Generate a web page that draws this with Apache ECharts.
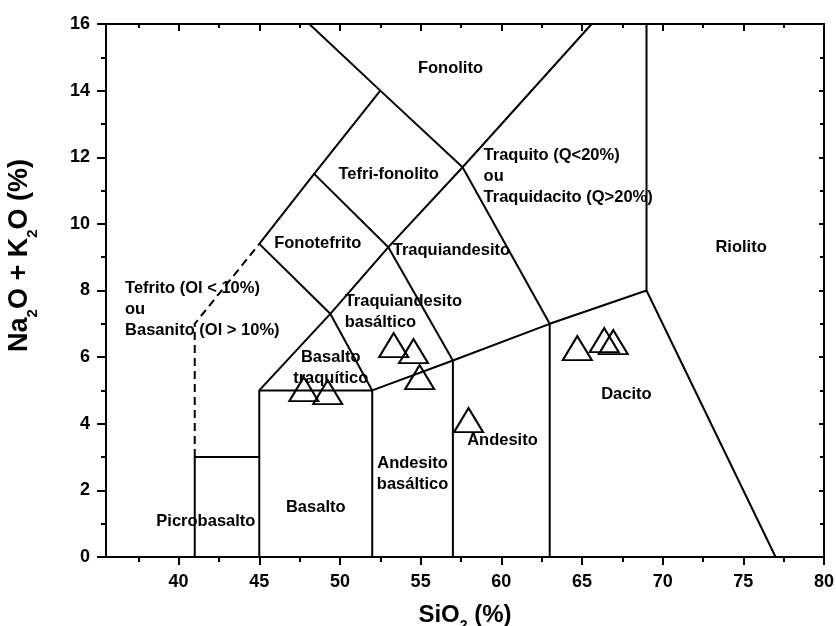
<!DOCTYPE html>
<html>
<head>
<meta charset="utf-8">
<script src="https://cdn.jsdelivr.net/npm/echarts@6/dist/echarts.min.js"></script>
<style>
  html, body { margin: 0; padding: 0; background: #fff; }
  #chart { width: 836px; height: 626px; }
</style>
</head>
<body>
<div id="chart"></div>
<script>
// ticks
var xTicks = [40, 45, 50, 55, 60, 65, 70, 75, 80];
var xMinor = [37.5, 42.5, 47.5, 52.5, 57.5, 62.5, 67.5, 72.5, 77.5];

// amostras (triangulos)
var sampleSiO2 = [53.33, 54.56, 54.94, 47.76, 49.24, 57.97, 64.71, 66.38, 66.94];
var sampleAlk  = [6.36, 6.18, 5.40, 5.04, 4.95, 4.11, 6.27, 6.51, 6.45];

// limites do diagrama TAS
var solidLines = [
  [[41, 0], [41, 3], [45, 3]],
  [[45, 0], [45, 5], [52, 5], [52, 0]],
  [[52, 5], [57, 5.9], [57, 0]],
  [[57, 5.9], [63, 7], [63, 0]],
  [[63, 7], [69, 8], [77, 0]],
  [[69, 8], [69, 16]],
  [[45, 9.4], [48.4, 11.5], [52.5, 14], [48.1, 16]],
  [[52.5, 14], [57.6, 11.7], [65.6, 16]],
  [[48.4, 11.5], [53, 9.3], [57.6, 11.7]],
  [[45, 9.4], [49.4, 7.3], [53, 9.3]],
  [[45, 5], [49.4, 7.3], [52, 5]],
  [[53, 9.3], [57, 5.9]],
  [[57.6, 11.7], [63, 7]]
];
var dashedLine = [[41, 3], [41, 7], [45, 9.4]];

// nomes dos campos
var fieldNames = ['Fonolito', 'Tefri-fonolito', 'Traquito (Q<20%)\nou\nTraquidacito (Q>20%)',
  'Fonotefrito', 'Traquiandesito', 'Riolito', 'Tefrito (Ol < 10%)\nou\nBasanito (Ol > 10%)',
  'Traquiandesito\nbasáltico', 'Basalto\ntraquítico', 'Dacito', 'Andesito',
  'Andesito\nbasáltico', 'Basalto', 'Picrobasalto'];
var fieldX = [56.85, 53.02, 58.9, 48.62, 53.27, 74.86, 36.68, 50.29, 49.43, 67.75, 60.07, 54.5, 48.5, 41.69];
var fieldY = [14.68, 11.47, 11.41, 9.40, 9.19, 9.28, 7.42, 7.36, 5.67, 4.89, 3.51, 2.49, 1.50, 1.08];
var fieldAlign = ['center', 'center', 'left', 'center', 'left', 'center', 'left',
  'left', 'center', 'center', 'center', 'center', 'center', 'center'];

var FONT = 'Liberation Sans, Arial, sans-serif';

var myChart = echarts.init(document.getElementById('chart'));

var series = [];
solidLines.forEach(function (pts) {
  series.push({
    type: 'line', data: pts, showSymbol: false, symbol: 'none', silent: true,
    lineStyle: { color: '#000', width: 2 }, z: 2
  });
});
series.push({
  type: 'line', data: dashedLine, showSymbol: false, symbol: 'none', silent: true,
  lineStyle: { color: '#000', width: 2, type: [8, 5] }, z: 2
});
series.push({
  type: 'scatter',
  data: fieldNames.map(function (n, i) {
    return { value: [fieldX[i], fieldY[i]], name: n, label: { align: fieldAlign[i] } };
  }),
  symbolSize: 0,
  itemStyle: { opacity: 1 },
  label: {
    show: true, position: 'inside', formatter: '{b}', color: '#000',
    fontFamily: FONT, fontSize: 16.5, fontWeight: 'bold', lineHeight: 21
  },
  z: 3
});
series.push({
  type: 'scatter',
  data: sampleSiO2.map(function (x, i) { return [x, sampleAlk[i]]; }),
  symbol: 'triangle',
  symbolSize: [29, 24],
  itemStyle: { color: 'rgba(0,0,0,0)', borderColor: '#000', borderWidth: 2, opacity: 1 },
  z: 4
});

var axisLineStyle = { color: '#000', width: 2 };

var option = {
  animation: false,
  grid: { left: 106, right: 12, top: 24, bottom: 69, containLabel: false, outerBoundsMode: 'none' },
  xAxis: [{
    type: 'value', min: 35.5, max: 80, position: 'bottom',
    name: '{a|SiO}{s|2}{a| (%)}', nameLocation: 'middle', nameGap: 46,
    nameTextStyle: {
      rich: {
        a: { fontFamily: FONT, fontSize: 24, fontWeight: 'bold', color: '#000', lineHeight: 30, verticalAlign: 'top' },
        s: { fontFamily: FONT, fontSize: 14, fontWeight: 'bold', color: '#000', lineHeight: 14, verticalAlign: 'bottom' }
      }
    },
    axisLine: { show: true, onZero: false, lineStyle: axisLineStyle },
    axisTick: { show: true, inside: false, length: 8, customValues: xTicks, lineStyle: axisLineStyle },
    axisLabel: { show: true, margin: 16, customValues: xTicks, color: '#000', fontFamily: FONT, fontSize: 18, fontWeight: 'bold' },
    splitLine: { show: false }
  }, {
    type: 'value', min: 35.5, max: 80, position: 'bottom',
    axisLine: { show: false, onZero: false },
    axisTick: { show: true, inside: false, length: 5, customValues: xMinor, lineStyle: axisLineStyle },
    axisLabel: { show: false },
    splitLine: { show: false }
  }, {
    type: 'value', min: 35.5, max: 80, position: 'top',
    axisLine: { show: true, onZero: false, lineStyle: axisLineStyle },
    axisTick: { show: true, inside: true, length: 7, customValues: xTicks, lineStyle: axisLineStyle },
    axisLabel: { show: false },
    splitLine: { show: false }
  }, {
    type: 'value', min: 35.5, max: 80, position: 'top',
    axisLine: { show: false, onZero: false },
    axisTick: { show: true, inside: true, length: 4, customValues: xMinor, lineStyle: axisLineStyle },
    axisLabel: { show: false },
    splitLine: { show: false }
  }],
  yAxis: [{
    type: 'value', min: 0, max: 16, interval: 2, position: 'left',
    name: '{a|Na}{s|2}{a|O + K}{s|2}{a|O (%)}', nameLocation: 'middle', nameGap: 66,
    nameTextStyle: {
      padding: [0, 0, 0, 70],
      rich: {
        a: { fontFamily: FONT, fontSize: 27, fontWeight: 'bold', color: '#000', lineHeight: 34, verticalAlign: 'top' },
        s: { fontFamily: FONT, fontSize: 15, fontWeight: 'bold', color: '#000', lineHeight: 15, verticalAlign: 'bottom' }
      }
    },
    axisLine: { show: true, onZero: false, lineStyle: axisLineStyle },
    axisTick: { show: true, inside: false, length: 9, lineStyle: axisLineStyle },
    minorTick: { show: true, splitNumber: 2, length: 5, lineStyle: axisLineStyle },
    axisLabel: { show: true, margin: 16, color: '#000', fontFamily: FONT, fontSize: 18, fontWeight: 'bold' },
    splitLine: { show: false }
  }, {
    type: 'value', min: 0, max: 16, interval: 2, position: 'right',
    axisLine: { show: true, onZero: false, lineStyle: axisLineStyle },
    axisTick: { show: true, inside: true, length: 5, lineStyle: axisLineStyle },
    minorTick: { show: true, splitNumber: 2, length: 4, lineStyle: axisLineStyle },
    axisLabel: { show: false },
    splitLine: { show: false }
  }],
  series: series
};

myChart.setOption(option);
</script>
</body>
</html>
